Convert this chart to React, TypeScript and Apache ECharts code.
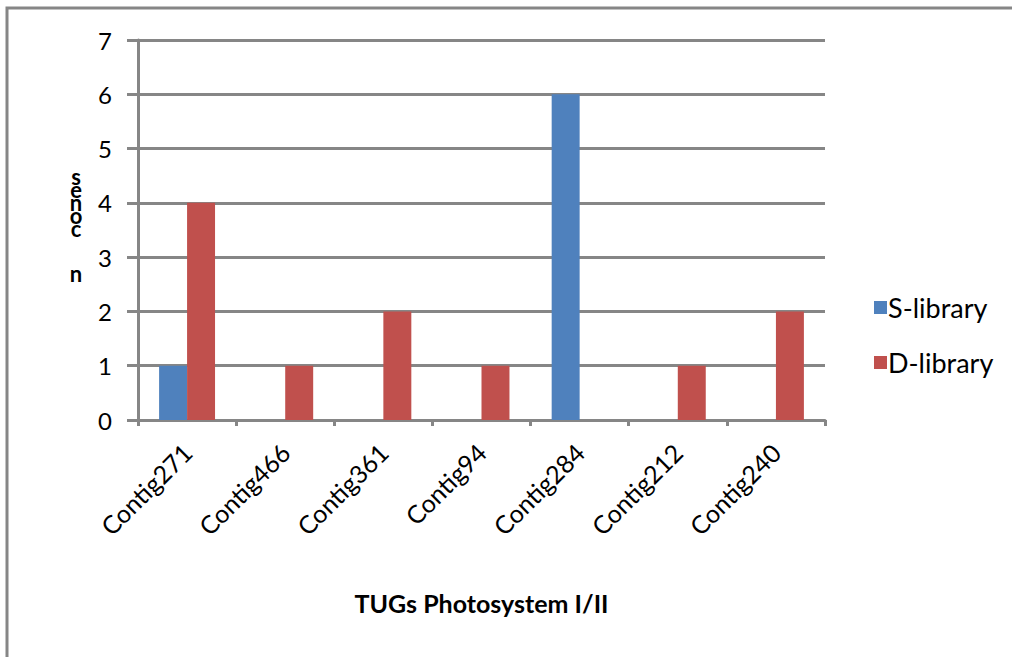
import React, { useEffect, useRef } from "react";
import * as echarts from "echarts";

const categories = ["Contig271", "Contig466", "Contig361", "Contig94", "Contig284", "Contig212", "Contig240"];
const sLibrary = [1, 0, 0, 0, 6, 0, 0];
const dLibrary = [4, 1, 2, 1, 0, 1, 2];
const seriesNames = ["S-library", "D-library"];
const xAxisTitle = "TUGs Photosystem I/II";
const yTitleLetters = ["s", "e", "n", "o", "c"];
const yTitleTail = "n";

const FONT = "Lato, 'Open Sans', sans-serif";
const GRAY = "#868686";

export default function App() {
  const ref = useRef<HTMLDivElement>(null);
  useEffect(() => {
    document.body.style.margin = "0";
    const chart = echarts.init(ref.current!, null, { renderer: "svg" });
    chart.setOption({
      animation: false,
      backgroundColor: "#ffffff",
      textStyle: { fontFamily: FONT },
      grid: { left: 138, top: 40, width: 687, height: 380, containLabel: false },
      legend: {
        orient: "vertical",
        left: 869,
        top: 289,
        itemWidth: 13,
        itemHeight: 13,
        itemGap: 28,
        icon: "rect",
        textStyle: { fontSize: 27, color: "#000", fontFamily: FONT, padding: [0, 0, 0, -4] },
        data: seriesNames,
      },
      xAxis: {
        type: "category",
        data: categories,
        boundaryGap: true,
        axisLine: { lineStyle: { color: GRAY, width: 3 } },
        axisTick: { show: true, length: 6, lineStyle: { color: GRAY, width: 3 } },
        axisLabel: { rotate: 45, fontSize: 25, color: "#000", margin: 28, interval: 0, fontFamily: FONT },
        name: xAxisTitle,
        nameLocation: "middle",
        nameGap: 170,
        nameTextStyle: { fontSize: 25, fontWeight: "bold", color: "#000", fontFamily: FONT },
      },
      yAxis: {
        type: "value",
        min: 0,
        max: 7,
        interval: 1,
        axisLine: { show: true, lineStyle: { color: GRAY, width: 3 } },
        axisTick: { show: true, length: 11, lineStyle: { color: GRAY, width: 3 } },
        splitLine: { show: true, lineStyle: { color: GRAY, width: 3 } },
        axisLabel: { fontSize: 24, color: "#000", margin: 26, fontFamily: FONT },
      },
      series: [
        {
          name: seriesNames[0],
          type: "bar",
          data: sLibrary,
          itemStyle: { color: "#4F81BD" },
          barGap: "0%",
          barCategoryGap: "43%",
        },
        {
          name: seriesNames[1],
          type: "bar",
          data: dLibrary,
          itemStyle: { color: "#C0504D" },
          barGap: "0%",
          barCategoryGap: "43%",
        },
      ],
      graphic: [
        {
          type: "rect",
          shape: { x: 7, y: 8, width: 1020, height: 670 },
          style: { fill: "none", stroke: GRAY, lineWidth: 3 },
          silent: true,
          z: -1,
        },
        {
          type: "text",
          x: 76,
          y: 170,
          style: {
            text: yTitleLetters.join("\n"),
            font: `bold 22px ${FONT}`,
            lineHeight: 13,
            fill: "#000",
            align: "center",
          },
        },
        {
          type: "text",
          x: 76,
          y: 262,
          style: {
            text: yTitleTail,
            font: `bold 22px ${FONT}`,
            fill: "#000",
            align: "center",
          },
        },
      ],
    });
    return () => chart.dispose();
  }, []);
  return <div ref={ref} style={{ width: 1012, height: 657 }} />;
}
